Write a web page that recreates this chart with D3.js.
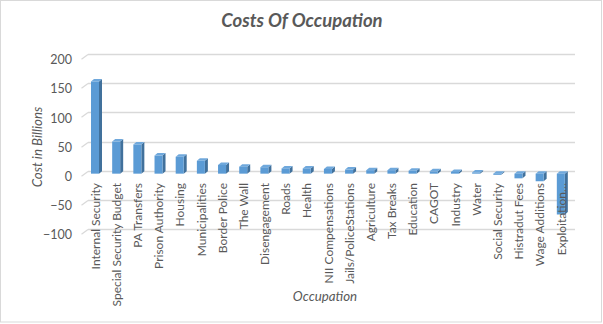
<!DOCTYPE html>
<html>
<head>
<meta charset="utf-8">
<script src="https://cdn.jsdelivr.net/npm/d3@7"></script>
<style>
  html, body { margin: 0; padding: 0; background: #fff; }
  svg { display: block; }
  text { font-family: Lato, "Open Sans", sans-serif; fill: #595959; }
</style>
</head>
<body>
<svg id="chart" width="603" height="324"></svg>
<script>
const categories = ["Internal Security", "Special Security Budget", "PA Transfers", "Prison Authority",
  "Housing", "Municipalities", "Border Police", "The Wall", "Disengagement", "Roads", "Health",
  "NII Compensations", "Jails/PoliceStations", "Agriculture", "Tax Breaks", "Education", "CAGOT",
  "Industry", "Water", "Social Security", "Histradut Fees", "Wage Additions", "Exploitation…"];
const values = [158, 55, 50, 31, 29, 22, 15, 12, 11, 9, 9, 8, 7, 6, 6, 5, 4, 3, 2, -2, -8, -13, -70];
const yTicks = [-100, -50, 0, 50, 100, 150, 200];
const title = "Costs Of Occupation";
const yTitle = "Cost in Billions";
const xTitle = "Occupation";

const svg = d3.select("#chart");

// chart border
svg.append("rect").attr("x", 0.5).attr("y", 0.5).attr("width", 601).attr("height", 321.5)
  .attr("fill", "#fff").attr("stroke", "#d9d9d9").attr("stroke-width", 1);

// back wall scales
const x = d3.scaleBand().domain(categories).range([88, 575]);
const y = d3.scaleLinear().domain([-100, 200]).range([229, 54]);
const depth = { dx: -6.5, dy: 4.7 }; // back wall -> front plane

// gridlines (back wall) + floor diagonal
const grid = svg.append("g");
yTicks.forEach(t => {
  const yy = Math.round(y(t)) + 0.5;
  grid.append("line").attr("x1", x.range()[0]).attr("x2", x.range()[1])
    .attr("y1", yy).attr("y2", yy).attr("stroke", "#d9d9d9").attr("stroke-width", 1.3);
  grid.append("line").attr("x1", x.range()[0] + depth.dx).attr("y1", yy + depth.dy)
    .attr("x2", x.range()[0]).attr("y2", yy).attr("stroke", "#d9d9d9").attr("stroke-width", 1.3);
});

// y axis labels (front plane)
const yAxis = d3.axisLeft(y).tickValues(yTicks).tickSize(0).tickPadding(0).tickFormat(d3.format("d"));
const gy = svg.append("g").attr("transform", `translate(72,${depth.dy + 1})`).call(yAxis);
gy.select(".domain").remove();
gy.selectAll("text").style("font-size", "12.5px").attr("fill", "#595959")
  .style("font-family", "Lato, sans-serif");

// bars (3D columns)
const barW = 8, bdx = 3, bdy = -2.5, frontShift = 3;
const bars = svg.append("g");
categories.forEach((c, i) => {
  const v = values[i];
  const x0 = x(c) + 3;
  const yTop = Math.min(y(v), y(0)) + frontShift;
  const yBot = Math.max(y(v), y(0)) + frontShift;
  const g = bars.append("g");
  g.append("path").attr("d",
    `M${x0 + barW},${yTop} L${x0 + barW + bdx},${yTop + bdy} L${x0 + barW + bdx},${yBot + bdy} L${x0 + barW},${yBot} Z`)
    .attr("fill", "#41719c");
  g.append("path").attr("d",
    `M${x0},${yTop} L${x0 + bdx},${yTop + bdy} L${x0 + barW + bdx},${yTop + bdy} L${x0 + barW},${yTop} Z`)
    .attr("fill", "#6fa8dc");
  g.append("rect").attr("x", x0).attr("y", yTop).attr("width", barW).attr("height", Math.max(0.6, yBot - yTop))
    .attr("fill", "#5b9bd5");
});

// category labels
const labels = svg.append("g");
categories.forEach(c => {
  const cx = x(c) + 3 + barW / 2 + 0.5;
  labels.append("text")
    .attr("transform", `translate(${cx},183) rotate(-90)`)
    .attr("text-anchor", "end").attr("dy", "0.35em")
    .style("font-size", "12px").text(c);
});

// titles
svg.append("text").attr("x", 302).attr("y", 27).attr("text-anchor", "middle")
  .style("font-size", "18.5px").style("font-weight", "bold").style("font-style", "italic").text(title);
svg.append("text").attr("transform", "translate(42,147) rotate(-90)").attr("text-anchor", "middle")
  .style("font-size", "13.3px").style("font-style", "italic").text(yTitle);
svg.append("text").attr("x", 325).attr("y", 301).attr("text-anchor", "middle")
  .style("font-size", "13.3px").style("font-style", "italic").text(xTitle);
</script>
</body>
</html>
